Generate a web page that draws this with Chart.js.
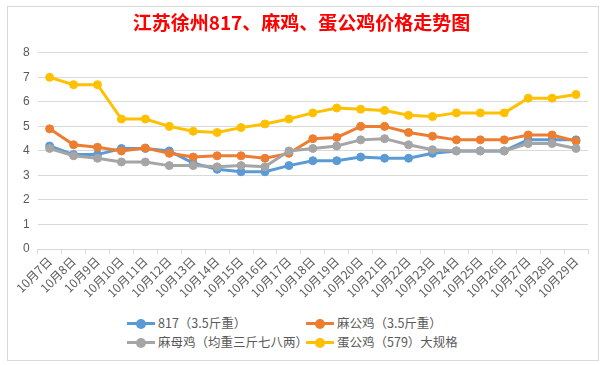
<!DOCTYPE html>
<html><head><meta charset="utf-8">
<script src="https://cdn.jsdelivr.net/npm/chart.js@4/dist/chart.umd.min.js"></script>
<style>
html,body{margin:0;padding:0;background:#fff;}
body{width:604px;height:365px;position:relative;overflow:hidden;font-family:"Noto Sans CJK SC","Noto Sans",sans-serif;}
#frame{position:absolute;left:7px;top:6px;width:590px;height:353px;border:1px solid #d9d9d9;}
#wrap{position:absolute;left:0;top:0;width:604px;height:300px;}
#legend{position:absolute;left:0;top:313px;width:604px;height:40px;font-size:12.5px;color:#595959;}
.item{position:absolute;height:18px;line-height:18px;white-space:nowrap;}
.sym{position:absolute;left:0;top:8px;width:28px;height:3px;}
.dot{position:absolute;left:9px;top:-3.5px;width:10px;height:10px;border-radius:50%;}
.lbl{position:absolute;left:31px;top:0;}
</style></head>
<body>
<div id="frame"></div>
<div id="wrap"><canvas id="c" width="604" height="300"></canvas></div>
<div id="legend"></div>
<script>
const categories = ["10月7日","10月8日","10月9日","10月10日","10月11日","10月12日","10月13日","10月14日","10月15日","10月16日","10月17日","10月18日","10月19日","10月20日","10月21日","10月22日","10月23日","10月24日","10月25日","10月26日","10月27日","10月28日","10月29日"];
const seriesNames = ["817（3.5斤重）","麻公鸡（3.5斤重）","麻母鸡（均重三斤七八两）","蛋公鸡（579）大规格"];
const s817 = [4.2,3.85,3.85,4.1,4.1,4.0,3.5,3.25,3.15,3.15,3.4,3.6,3.6,3.75,3.7,3.7,3.9,4.0,4.0,4.0,4.45,4.45,4.45];
const maGongJi = [4.9,4.25,4.15,4.0,4.12,3.9,3.75,3.8,3.8,3.7,3.9,4.5,4.55,5.0,5.0,4.75,4.6,4.45,4.45,4.45,4.65,4.65,4.4];
const maMuJi = [4.1,3.8,3.7,3.55,3.55,3.4,3.4,3.35,3.4,3.35,4.0,4.1,4.2,4.45,4.5,4.25,4.05,4.0,4.0,4.0,4.3,4.3,4.1];
const danGongJi = [7.0,6.7,6.7,5.3,5.3,5.0,4.8,4.75,4.95,5.1,5.3,5.55,5.75,5.7,5.65,5.45,5.4,5.55,5.55,5.55,6.15,6.15,6.3];
const yTicks = [0,1,2,3,4,5,6,7,8];
const titleText = "江苏徐州817、麻鸡、蛋公鸡价格走势图";

const colors = ["#5B9BD5","#ED7D31","#A5A5A5","#FFC000"];
const allData = [s817, maGongJi, maMuJi, danGongJi];

const datasets = allData.map((d,i)=>({
  label: seriesNames[i],
  data: d,
  borderColor: colors[i],
  backgroundColor: colors[i],
  pointBackgroundColor: colors[i],
  pointBorderColor: colors[i],
  borderWidth: 3,
  pointRadius: 4,
  pointBorderWidth: 1,
  tension: 0,
  order: 4 - i
}));

new Chart(document.getElementById('c'), {
  type: 'line',
  data: { labels: categories, datasets },
  options: {
    responsive: false,
    animation: false,
    layout: { padding: { left: 15, right: 16, top: 4, bottom: 0 } },
    plugins: {
      legend: { display: false },
      tooltip: { enabled: false },
      title: {
        display: true,
        text: titleText,
        color: '#FF0000',
        font: { family: '"Noto Sans CJK SC"', size: 19, weight: 'bold' },
        padding: { top: 7, bottom: 19 }
      }
    },
    scales: {
      x: {
        offset: true,
        grid: { display: true, drawOnChartArea: false, drawTicks: true, tickLength: 5, color: '#d9d9d9', offset: true },
        border: { color: '#d9d9d9' },
        ticks: {
          minRotation: 45, maxRotation: 45, autoSkip: false,
          color: '#595959', padding: 0,
          font: { family: '"Noto Sans CJK SC"', size: 12 }
        }
      },
      y: {
        min: 0, max: 8,
        afterBuildTicks: (ax) => { ax.ticks = yTicks.map(v => ({ value: v })); },
        grid: { color: '#d9d9d9', drawTicks: false },
        border: { display: false },
        ticks: { color: '#595959', padding: 8, font: { family: '"Liberation Sans"', size: 12 } }
      }
    }
  }
});

const legendPos = [[127,314],[306,314],[127,333],[306,333]];
const lg = document.getElementById('legend');
seriesNames.forEach((n,i)=>{
  const it = document.createElement('div');
  it.className = 'item';
  it.style.left = legendPos[i][0] + 'px';
  it.style.top = (legendPos[i][1] - 313) + 'px';
  it.innerHTML = '<div class="sym" style="background:'+colors[i]+'"><div class="dot" style="background:'+colors[i]+'"></div></div><span class="lbl"></span>';
  it.querySelector('.lbl').textContent = n;
  lg.appendChild(it);
});
</script>
</body></html>
